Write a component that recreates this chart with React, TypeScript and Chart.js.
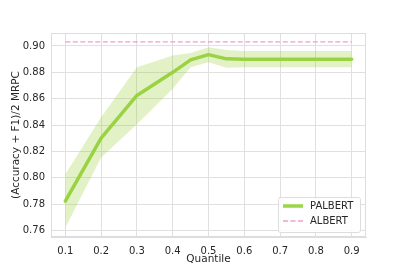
import React, { useEffect, useRef } from "react";
import { Chart, registerables } from "chart.js";

Chart.register(...registerables);

const quantiles = [0.1, 0.2, 0.3, 0.4, 0.45, 0.5, 0.55, 0.6, 0.7, 0.8, 0.9];
const palbertMean = [0.7824, 0.8302, 0.8625, 0.88, 0.8894, 0.8934, 0.8902, 0.89, 0.89, 0.89, 0.89];
const palbertUpper = [0.8028, 0.846, 0.8838, 0.8927, 0.8947, 0.899, 0.897, 0.8962, 0.8962, 0.8962, 0.8962];
const palbertLower = [0.7622, 0.8154, 0.8406, 0.8675, 0.8838, 0.8876, 0.8834, 0.8838, 0.8838, 0.8838, 0.8838];
const albertX = [0.1, 0.9];
const albertY = [0.903, 0.903];
const xTicks = [0.1, 0.2, 0.3, 0.4, 0.5, 0.6, 0.7, 0.8, 0.9];
const yTicks = [0.76, 0.78, 0.8, 0.82, 0.84, 0.86, 0.88, 0.9];

const GREEN = "rgb(154,214,72)";
const BAND = "rgba(154,205,50,0.28)";
const PINK = "rgba(238,140,200,0.85)";
const FONT = "'DejaVu Sans', sans-serif";
const TEXT = "#262626";

const legendPlugin = {
  id: "customLegend",
  afterDraw(chart: any) {
    const ctx = chart.ctx;
    const area = chart.chartArea;
    const w = 82, h = 35;
    const x = area.right - 6 - w;
    const y = area.bottom - 5 - h;
    ctx.save();
    ctx.fillStyle = "rgba(255,255,255,0.85)";
    ctx.strokeStyle = "#dddddd";
    ctx.lineWidth = 1;
    ctx.beginPath();
    (ctx as any).roundRect ? ctx.roundRect(x + 0.5, y + 0.5, w, h, 2) : ctx.rect(x + 0.5, y + 0.5, w, h);
    ctx.fill();
    ctx.stroke();
    ctx.font = `10px ${FONT}`;
    ctx.fillStyle = TEXT;
    ctx.textBaseline = "middle";
    const items = [
      { label: "PALBERT", color: GREEN, width: 3.5, dash: [] as number[] },
      { label: "ALBERT", color: PINK, width: 1.5, dash: [5, 2.5] },
    ];
    items.forEach((it, i) => {
      const cy = y + 9 + i * 15;
      ctx.strokeStyle = it.color;
      ctx.lineWidth = it.width;
      ctx.setLineDash(it.dash);
      ctx.beginPath();
      ctx.moveTo(x + 5, cy);
      ctx.lineTo(x + 25, cy);
      ctx.stroke();
      ctx.setLineDash([]);
      ctx.fillText(it.label, x + 32, cy + 0.5);
    });
    ctx.restore();
  },
};

export default function App() {
  const ref = useRef<HTMLCanvasElement>(null);
  useEffect(() => {
    document.body.style.margin = "0";
    const pts = (xs: number[], ys: number[]) => xs.map((x, i) => ({ x, y: ys[i] }));
    const chart = new Chart(ref.current!, {
      type: "line",
      data: {
        datasets: [
          {
            label: "upper",
            data: pts(quantiles, palbertUpper),
            borderWidth: 0,
            pointRadius: 0,
            fill: "+1",
            backgroundColor: BAND,
            borderColor: "rgba(0,0,0,0)",
          },
          {
            label: "lower",
            data: pts(quantiles, palbertLower),
            borderWidth: 0,
            pointRadius: 0,
            fill: false,
            borderColor: "rgba(0,0,0,0)",
          },
          {
            label: "PALBERT",
            data: pts(quantiles, palbertMean),
            borderColor: GREEN,
            borderWidth: 3.5,
            pointRadius: 0,
            fill: false,
            borderJoinStyle: "round",
            borderCapStyle: "round",
          },
          {
            label: "ALBERT",
            data: pts(albertX, albertY),
            borderColor: PINK,
            borderWidth: 1.3,
            borderDash: [5, 2.5],
            pointRadius: 0,
            fill: false,
          },
        ],
      },
      options: {
        animation: false,
        responsive: false,
        layout: { padding: { left: 10, right: 41, top: 33, bottom: 5 } },
        plugins: { legend: { display: false }, tooltip: { enabled: false } },
        scales: {
          x: {
            type: "linear",
            min: 0.06,
            max: 0.94,
            afterBuildTicks: (axis: any) => {
              axis.ticks = xTicks.map((v) => ({ value: v }));
            },
            afterFit: (axis: any) => {
              axis.height = 29;
            },
            ticks: {
              font: { family: FONT, size: 10 },
              color: TEXT,
              padding: 8,
              callback: (v: any) => Number(v).toFixed(1),
            },
            grid: { color: "#e0e0e0", lineWidth: 1, tickLength: 0, drawTicks: false },
            border: { color: "#dddddd" },
            title: {
              display: true,
              text: "Quantile",
              font: { family: FONT, size: 10.5 },
              color: TEXT,
              padding: { top: 0, bottom: 0 },
            },
          },
          y: {
            type: "linear",
            min: 0.7552,
            max: 0.9098,
            afterBuildTicks: (axis: any) => {
              axis.ticks = yTicks.map((v) => ({ value: v }));
            },
            afterFit: (axis: any) => {
              axis.width = 41;
            },
            ticks: {
              font: { family: FONT, size: 10 },
              color: TEXT,
              padding: 6,
              callback: (v: any) => Number(v).toFixed(2),
            },
            grid: { color: "#e0e0e0", lineWidth: 1, tickLength: 0, drawTicks: false },
            border: { color: "#dddddd" },
            title: {
              display: true,
              text: "(Accuracy + F1)/2 MRPC",
              font: { family: FONT, size: 10.5 },
              color: TEXT,
              padding: { top: 0, bottom: 0 },
            },
          },
        },
      },
      plugins: [
        legendPlugin,
        {
          id: "frame",
          afterDatasetsDraw(chart: any) {
            const { ctx, chartArea: a } = chart;
            ctx.save();
            ctx.strokeStyle = "#dddddd";
            ctx.lineWidth = 1;
            ctx.strokeRect(a.left + 0.5, a.top + 0.5, a.right - a.left - 1, a.bottom - a.top - 1);
            ctx.restore();
          },
        },
      ],
    } as any);
    return () => chart.destroy();
  }, []);
  return <canvas ref={ref} width={407} height={271} style={{ display: "block" }} />;
}
